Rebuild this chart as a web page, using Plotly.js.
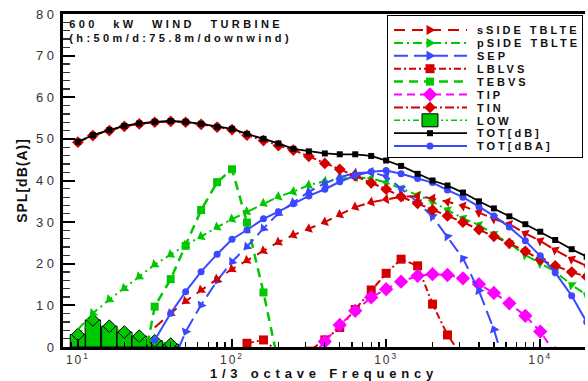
<!DOCTYPE html>
<html><head><meta charset="utf-8">
<script src="https://cdn.plot.ly/plotly-3.0.1.min.js"></script>
<style>
html,body{margin:0;padding:0;background:#fff;}
#chart{width:588px;height:381px;}
.ytick text{letter-spacing:3.5px;}
.xtick text{letter-spacing:2px;}
.gtitle{letter-spacing:3.4px;word-spacing:9px;}
.xtitle{letter-spacing:4.8px;}
.ytitle{letter-spacing:1px;}
.legendtext{letter-spacing:3px;}
</style></head><body><div id="chart"></div>
<script>
// ---- data ----
const freqAll = [10,12.5,16,20,25,31.5,40,50,63,80,100,125,160,200,250,315,400,500,630,800,1000,1250,1600,2000,2500,3150,4000,5000,6300,8000,10000,12500,16000,20000];

const sSideFreq = [31.5,40,50,63,80,100,125,160,200,250,315,400,500,630,800,1000,1250,1600,2000,2500,3150,4000,5000,6300,8000,10000,12500,16000,20000];
const sSide = [4.7,8.1,11.0,13.7,16.3,18.7,20.8,23.1,25.2,26.9,28.4,30.0,31.8,33.6,34.8,35.5,36.1,36.2,35.7,34.9,33.9,32.3,30.8,29.5,27.3,25.5,23.3,21.1,19.5];

const pSide = [4.2,8.1,11.4,14.1,16.9,19.8,22.2,24.5,26.5,28.8,30.7,32.5,34.5,36.1,37.3,38.9,39.8,40.4,40.8,40.5,39.5,38.1,36.5,34.9,32.9,30.9,29.3,27.1,24.9,22.1,20.1,18.1,14.9,12.5];

const sepFreq = [40,50,63,80,100,125,160,200,250,315,400,500,630,800,1000,1250,1600,2000,2500,3150,4000,5000,6300];
const sep = [-5,3.7,10.1,15.9,20.5,24.1,28.5,32.1,34.7,37.3,39.3,40.8,41.8,42.0,41.0,38.0,34.8,31.3,26.5,21.3,13.5,4.2,-8];

const lblvsFreq = [125,160,200,250,315,400,500,630,800,1000,1250,1600,2000,2500,3150];
const lblvs = [0.9,1.7,-1.2,-8,-1,1.7,4.7,9.0,13.7,17.7,21.1,19.5,10.3,2.9,-2.5];

const tebvsFreq = [25,31.5,40,50,63,80,100,125,160,200];
const tebvs = [-10,9.7,16.3,24.3,32.9,39.6,42.7,29.9,13.1,-4];

const tipFreq = [315,400,500,630,800,1000,1250,1600,2000,2500,3150,4000,5000,6300,8000,10000,12500];
const tip = [-3,1.3,5.3,8.7,11.9,13.9,15.7,17.1,17.5,17.3,16.5,15.1,13.0,10.5,7.5,3.7,-1.5];

const tin = [49.2,50.8,52.0,53.0,53.6,54.0,54.2,54.0,53.5,52.8,52.2,50.9,49.6,48.4,47.3,45.8,44.1,42.7,41.1,39.4,37.9,36.1,34.5,32.9,31.5,30.0,28.2,26.6,24.9,23.0,21.0,19.5,18.0,16.9];

const lowFreq = [10,12.5,16,20,25,31.5,40];
const low = [3.0,6.5,5.0,3.6,2.6,1.5,0.7];

const totDB = [49.3,50.9,52.1,53.1,53.7,54.1,54.3,54.1,53.6,52.9,52.4,51.2,50.0,48.9,47.6,47.0,46.5,46.3,46.3,45.9,44.8,43.5,41.6,40.0,38.8,37.1,35.0,33.3,31.4,29.5,27.7,25.7,23.5,21.7];

const dbaFreq = [31.5,40,50,63,80,100,125,160,200,250,315,400,500,630,800,1000,1250,1600,2000,2500,3150,4000,5000,6300,8000,10000,12500,16000,20000];
const totDBA = [1.7,8.1,13.3,18.1,22.3,25.9,28.1,30.8,32.5,34.4,36.3,37.9,39.7,41.2,42.1,42.4,41.6,40.5,39.5,37.7,36.0,33.7,31.5,28.8,25.5,21.9,17.9,12.3,6.0];

const xTickVals = [10,100,1000,10000];
const xTickText = ['10<sup>1</sup>','10<sup>2</sup>','10<sup>3</sup>','10<sup>4</sup>'];

// ---- styles ----
const RED = '#d40000', GREEN = '#00c800', BLUE = '#3a48ff', MAG = '#ff00ff';

// LOW drawn as contiguous 1/3-octave bars (built from the LOW arrays)
const half = Math.pow(10, 0.05);
const lowBarX = [], lowBarY = [];
lowFreq.forEach((f, i) => {
  lowBarX.push(f / half, f * half, f * half, f / half, f / half, null);
  lowBarY.push(0, 0, low[i], low[i], 0, null);
});

function tri(name, x, y, color, dash, rank) {
  return {type:'scatter', mode:'lines+markers', name, x, y, legendrank:rank,
    line:{color, width:2, dash},
    marker:{symbol:'triangle-right', size:9, color, angle:90, angleref:'previous'}};
}

const traces = [
  {type:'scatter', mode:'lines', x:lowBarX, y:lowBarY, fill:'toself', fillcolor:GREEN,
   line:{color:'black', width:1}, showlegend:false, hoverinfo:'skip'},
  {type:'scatter', mode:'lines+markers', name:'LOW', x:lowFreq, y:low, legendrank:8,
   line:{color:GREEN, width:1.5, dash:'6px,3px,2px,3px,2px,3px'},
   marker:{symbol:'square', angle:45, size:9, color:GREEN, line:{color:'black', width:1}}},
  {type:'scatter', mode:'lines+markers', name:'TEBVS', x:tebvsFreq, y:tebvs, legendrank:5,
   line:{color:GREEN, width:2.5, dash:'9px,6px'}, marker:{symbol:'square', size:8, color:GREEN}},
  tri('pSIDE TBLTE', freqAll, pSide, GREEN, '9px,4px,2px,4px', 2),
  {type:'scatter', mode:'lines+markers', name:'LBLVS', x:lblvsFreq, y:lblvs, legendrank:4,
   line:{color:RED, width:2, dash:'7px,3px,2px,3px'}, marker:{symbol:'square', size:9, color:RED}},
  {type:'scatter', mode:'lines+markers', name:'TIP', x:tipFreq, y:tip, legendrank:6,
   line:{color:MAG, width:2, dash:'8px,5px'}, marker:{symbol:'diamond', size:11, color:MAG}},
  tri('SEP', sepFreq, sep, BLUE, '14px,6px', 3),
  tri('sSIDE TBLTE', sSideFreq, sSide, RED, '11px,7px', 1),
  {type:'scatter', mode:'lines+markers', name:'TIN', x:freqAll, y:tin, legendrank:7,
   line:{color:RED, width:2, dash:'9px,3px,2px,3px'}, marker:{symbol:'diamond', size:9, color:RED}},
  {type:'scatter', mode:'lines+markers', name:'TOT[dBA]', x:dbaFreq, y:totDBA, legendrank:10,
   line:{color:BLUE, width:2}, marker:{symbol:'circle', size:7, color:BLUE}},
  {type:'scatter', mode:'lines+markers', name:'TOT[dB]', x:freqAll, y:totDB, legendrank:9,
   line:{color:'black', width:1.8}, marker:{symbol:'square', size:6, color:'black'}}
];

const layout = {
  width:588, height:381,
  margin:{l:63, r:0, t:14, b:34, pad:0},
  paper_bgcolor:'white', plot_bgcolor:'white',
  font:{family:'"Liberation Sans", Arial, Helvetica, sans-serif', color:'#222', size:13},
  showlegend:true,
  title:{text:'600 kW WIND TURBINE<br>(h:50m/d:75.8m/downwind)',
    font:{size:11, weight:'bold', color:'#111'},
    xref:'paper', x:0.012, xanchor:'left', yref:'paper', y:0.958, yanchor:'top'},
  xaxis:{type:'log', range:[0.9032, 4.2903], showgrid:false, zeroline:false,
    showline:true, linecolor:'black', linewidth:3, mirror:true,
    ticks:'inside', ticklen:8, tickwidth:2, tickcolor:'black',
    tickmode:'array', tickvals:xTickVals, ticktext:xTickText,
    tickfont:{size:12, color:'#333'},
    minor:{ticks:'inside', ticklen:5, tickwidth:1.3, tickcolor:'black', dtick:'D1', showgrid:false},
    title:{text:'1/3 octave Frequency', font:{size:13, weight:'bold', color:'#111'}, standoff:3}},
  yaxis:{range:[0,80], dtick:10, showgrid:false, zeroline:false,
    showline:true, linecolor:'black', linewidth:3, mirror:false,
    ticks:'inside', ticklen:12, tickwidth:2, tickcolor:'black',
    tickfont:{size:13, color:'#333'},
    minor:{ticks:'inside', ticklen:7, tickwidth:1.3, tickcolor:'#333', dtick:2, showgrid:false},
    title:{text:'SPL[dB(A)]', font:{size:14, weight:'bold', color:'#111'}, standoff:6}},
  legend:{x:(389-63)/525, xanchor:'left', y:0.997, yanchor:'top',
    bgcolor:'white', bordercolor:'black', borderwidth:1,
    font:{size:11, weight:'bold', color:'#111'}, itemwidth:80, tracegroupgap:0}
};

const TRI_NAMES = ['sSIDE TBLTE', 'pSIDE TBLTE', 'SEP'];
const TEXT_X = 89;

function tweakLegend(gd) {
  const leg = gd.querySelector('.legend');
  if (!leg) return;
  const bg = leg.querySelector('rect.bg');
  if (bg) { bg.setAttribute('width', 195); bg.setAttribute('height', 142); }
  const items = leg.querySelectorAll('.traces');
  items.forEach((g, i) => {
    g.setAttribute('transform', 'translate(1,' + (15 + i * 12.9) + ')');
    g.querySelectorAll('.legendlines path').forEach(p => p.setAttribute('d', 'M6,0h73'));
    const txt = g.querySelector('text.legendtext');
    const name = txt ? txt.textContent.trim() : '';
    g.querySelectorAll('.legendpoints path').forEach(p => {
      let t = p.getAttribute('transform') || 'translate(20,0)';
      t = t.replace(/rotate\([^)]*\)/g, '').replace(/translate\(\s*[-\d.]+\s*,/, 'translate(42,');
      p.setAttribute('transform', t.trim());
      if (name === 'LOW') p.setAttribute('d', 'M-8,-6.5H8V6.5H-8Z');
      if (TRI_NAMES.indexOf(name) >= 0) p.setAttribute('d', 'M-3.5,-5L5.5,0L-3.5,5Z');
    });
    if (txt) {
      txt.removeAttribute('transform');
      txt.removeAttribute('dx');
      txt.removeAttribute('textLength');
      txt.setAttribute('text-anchor', 'start');
      txt.style.textAnchor = 'start';
      txt.setAttribute('x', TEXT_X);
      txt.querySelectorAll('tspan').forEach(ts => { if (ts.hasAttribute('x')) ts.setAttribute('x', TEXT_X); });
    }
  });
  // screen-space check: every label should start at the same place
  if (bg) {
    const target = bg.getBoundingClientRect().left + 1 + TEXT_X;
    items.forEach(g => {
      const txt = g.querySelector('text.legendtext');
      if (!txt) return;
      const off = txt.getBoundingClientRect().left - target;
      if (Math.abs(off) > 0.5) txt.setAttribute('x', TEXT_X - off);
    });
  }
  const sb = leg.querySelector('.scrollbox');
  if (sb) {
    const cp = sb.getAttribute('clip-path');
    const m = cp && cp.match(/#([^)'"]+)/);
    if (m) {
      const r = document.getElementById(m[1]);
      const rect = r && (r.tagName === 'rect' ? r : r.querySelector('rect'));
      if (rect) { rect.setAttribute('width', 195); rect.setAttribute('height', 142); }
    }
  }
}

Plotly.newPlot('chart', traces, layout, {displayModeBar:false, staticPlot:true})
  .then(gd => tweakLegend(gd));
</script>
</body></html>
